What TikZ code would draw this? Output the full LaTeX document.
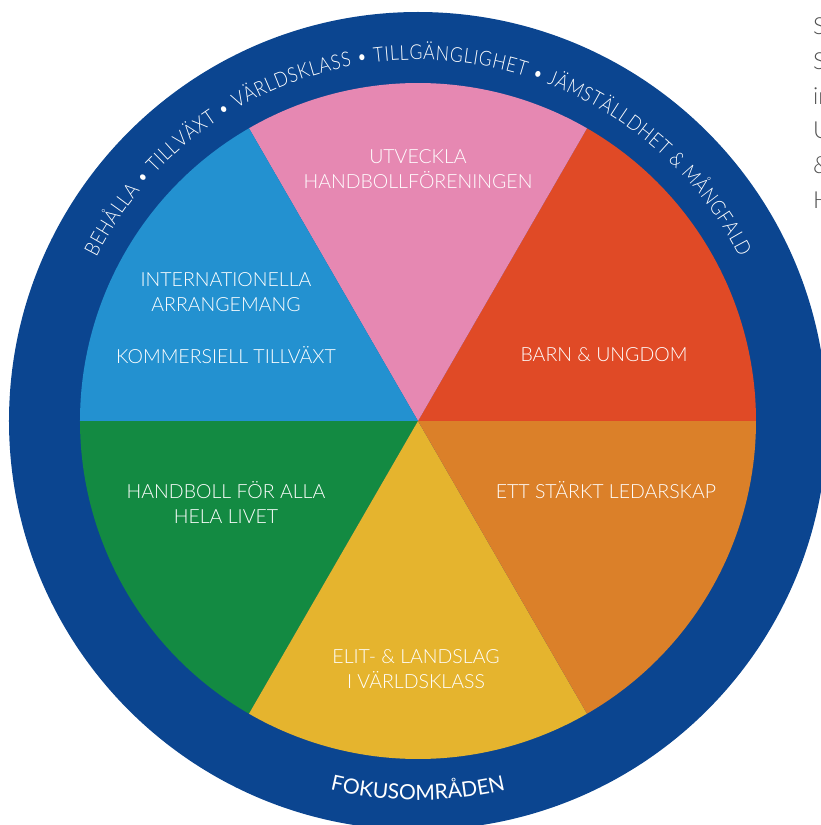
\documentclass[tikz,border=0pt]{standalone}
\usepackage{fontspec}
\usetikzlibrary{decorations.text}
\setmainfont{Lato}
\IfFontExistsTF{Lato Light}{\newfontfamily\thinfont{Lato Light}\newfontfamily\arcfont{Lato Light}[FakeStretch=0.86]}{\newfontfamily\thinfont{Lato}\newfontfamily\arcfont{Lato}[FakeStretch=0.86]}
\definecolor{ringblue}{HTML}{0B4590}
\definecolor{segpink}{HTML}{E688B2}
\definecolor{segred}{HTML}{E04A26}
\definecolor{segblue}{HTML}{2391D0}
\definecolor{segorange}{HTML}{DB8029}
\definecolor{segyellow}{HTML}{E5B42E}
\definecolor{seggreen}{HTML}{138A42}
\definecolor{sidegray}{HTML}{505050}

\begin{document}
\begin{tikzpicture}[x=1pt, y=1pt,
    seglabel/.style={text=white, font=\thinfont\fontsize{19.5}{25}\selectfont, align=center, inner sep=0pt},
    sidetext/.style={text=sidegray, font=\thinfont\fontsize{23.5}{23.5}\selectfont, anchor=base west, inner sep=0pt}]
    \useasboundingbox (-418,421) rectangle (403,-404);
    \coordinate (O) at (0,0);
    \fill[ringblue] (O) circle (409);
    \fill[segred] (O) -- (0:338) arc (0:60:338) -- cycle;
    \fill[segpink] (O) -- (60:338) arc (60:120:338) -- cycle;
    \fill[segblue] (O) -- (120:338) arc (120:180:338) -- cycle;
    \fill[seggreen] (O) -- (180:338) arc (180:240:338) -- cycle;
    \fill[segyellow] (O) -- (240:338) arc (240:300:338) -- cycle;
    \fill[segorange] (O) -- (300:338) arc (300:360:338) -- cycle;
    \path[decorate, decoration={text along path, text align=fit to path,
        text={|\arcfont\fontsize{20.5}{20.5}\selectfont\color{white}|BEHÅLLA • TILLVÄXT • VÄRLDSKLASS • TILLGÄNGLIGHET • JÄMSTÄLLDHET {\&} MÅNGFALD}}]
        (153:361) arc (153:27:361);
    \path[decorate, decoration={text along path, text align=center,
        text={|\fontsize{21}{21}\selectfont\color{white}|FOKUSOMRÅDEN}}]
        (240:379) arc (240:300:379);
    \node[seglabel] (utveckla) at (0,251.5) {UTVECKLA\\HANDBOLLFÖRENINGEN};
    \node[seglabel] (internat) at (-192,128.5) {INTERNATIONELLA\\ARRANGEMANG};
    \node[seglabel] (kommers) at (-192,66) {KOMMERSIELL TILLVÄXT};
    \node[seglabel] (barn) at (186,66) {BARN \& UNGDOM};
    \node[seglabel] (ledar) at (188,-69) {ETT STÄRKT LEDARSKAP};
    \node[seglabel] (alla) at (-192,-81) {HANDBOLL FÖR ALLA\\HELA LIVET};
    \node[seglabel] (elit) at (-2,-248.5) {ELIT- \& LANDSLAG\\I VÄRLDSKLASS};
    \node[sidetext] (side1) at (395,386) {S};
    \node[sidetext] (side2) at (395,351) {S};
    \node[sidetext] (side3) at (395,316) {in};
    \node[sidetext] (side4) at (395,282) {U};
    \node[sidetext] (side5) at (395,247) {\&};
    \node[sidetext] (side6) at (395,212) {H};
\end{tikzpicture}
\end{document}
